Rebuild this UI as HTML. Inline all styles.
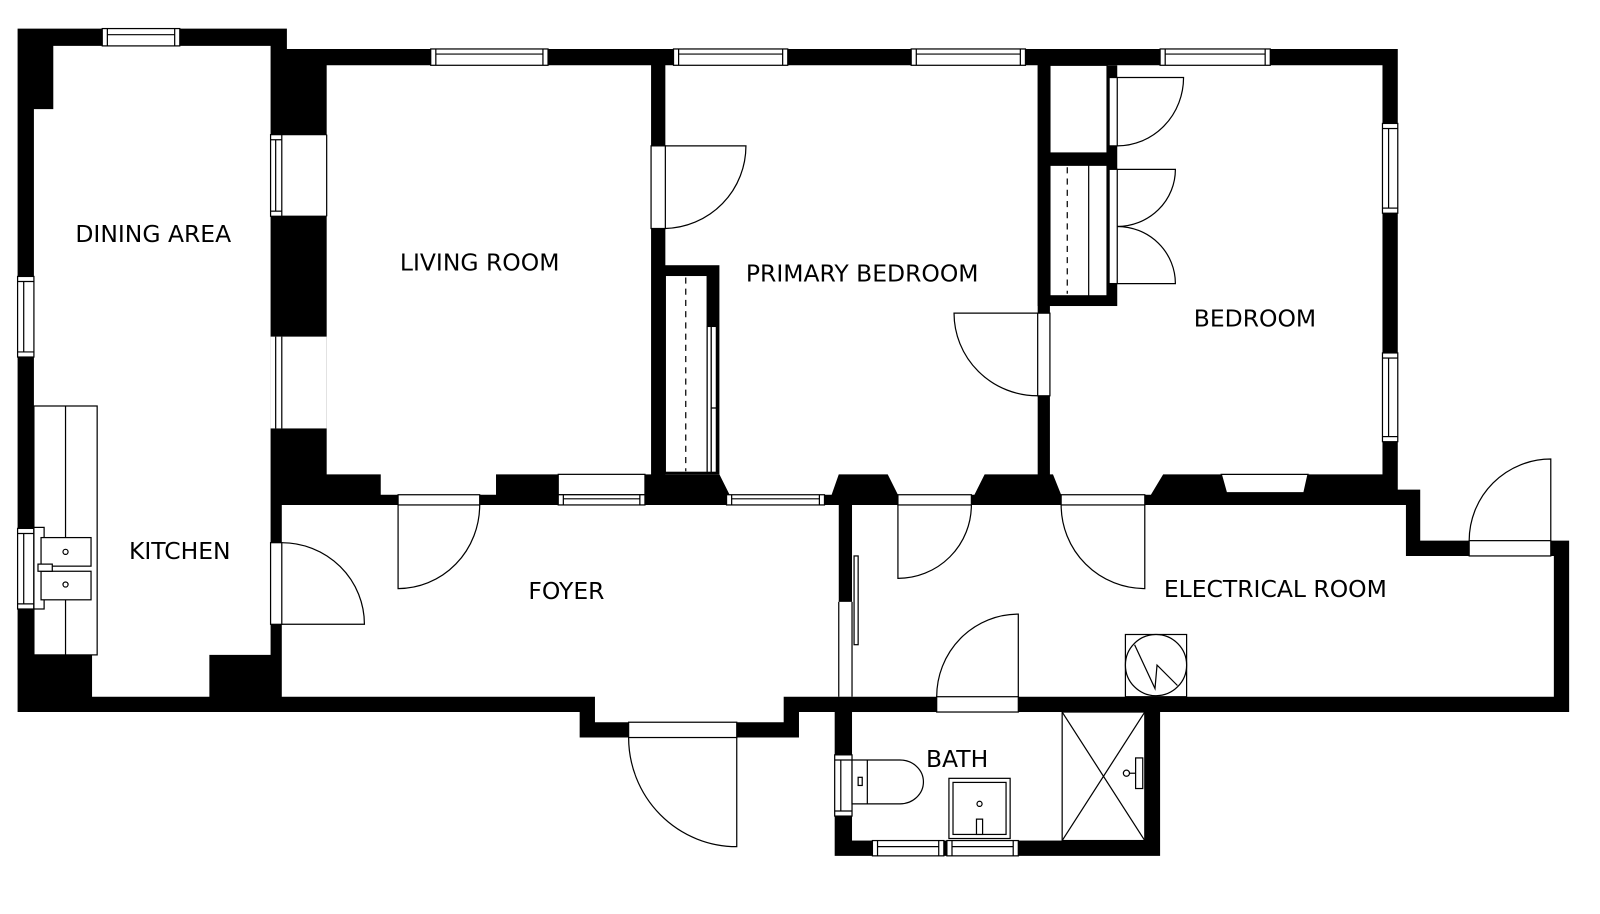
<!DOCTYPE html>
<html><head><meta charset="utf-8"><style>
html,body{margin:0;padding:0;background:#fff;}
svg{display:block;}
text{font-family:"DejaVu Sans","Liberation Sans",sans-serif;font-size:23px;fill:#000;text-anchor:middle;}
.w{fill:#fff;stroke:#000;stroke-width:1.2;}
.l{stroke:#000;stroke-width:1.2;fill:none;}
</style></head><body>
<svg width="1600" height="914" viewBox="0 0 1568 896" xmlns="http://www.w3.org/2000/svg">
<rect width="1568" height="896" fill="#fff"/>
<polygon fill="#000" points="17,28 281,28 281,48 1370,48 1370,480 1392,480 1392,530 1538,530 1538,698 1137,698 1137,839 818,839 818,698 783,698 783,723 568,723 568,698 17,698"/>
<polygon fill="#fff" points="52,45 265,45 265,642 205,642 205,683 90,683 90,642 33,642 33,107 52,107"/>
<polygon fill="#fff" points="320,64 638,64 638,465 486,465 486,485 373,485 373,465 320,465"/>
<rect x="276" y="132" width="44" height="80" fill="#fff"/>
<rect x="265" y="330" width="55" height="90" fill="#fff"/>
<line class="l" x1="270" y1="330" x2="270" y2="420"/><line class="l" x1="276" y1="330" x2="276" y2="420"/>
<line class="l" x1="276" y1="132" x2="320" y2="132"/><line class="l" x1="276" y1="212" x2="320" y2="212"/><line class="l" x1="320" y1="132" x2="320" y2="212"/>
<polygon fill="#fff" points="652,64 1017,64 1017,465 965,465 955,485 880,485 870,465 822,465 815,485 715,485 705,465 652,465"/>
<polygon fill="#fff" points="1029,64 1355,64 1355,465 1140,465 1128,485 1040,485 1032,465 1029,465"/>
<polygon class="w" points="1197,465 1282,465 1278,483 1202,483"/>
<polygon fill="#fff" points="276,495 822,495 822,683 768,683 768,708 583,708 583,683 276,683"/>
<polygon fill="#fff" points="835,495 1378,495 1378,545 1523,545 1523,683 835,683"/>
<rect x="822" y="590" width="13" height="93" fill="#fff"/>
<line class="l" x1="822" y1="590" x2="822" y2="683"/><line class="l" x1="835" y1="590" x2="835" y2="683"/>
<rect class="w" x="837" y="545" width="4" height="87"/>
<rect fill="#fff" x="835" y="698" width="287" height="126"/>
<rect class="w" x="547" y="465" width="85" height="20"/>
<rect fill="#000" x="650" y="260" width="55" height="205"/>
<rect class="w" x="652" y="270" width="41" height="193"/>
<line class="l" x1="672" y1="272" x2="672" y2="462" stroke-dasharray="6,5"/>
<rect class="w" x="693" y="320" width="4" height="143"/><rect class="w" x="697" y="320" width="5" height="80"/><rect class="w" x="697" y="400" width="5" height="63"/>
<rect fill="#000" x="1017" y="64" width="78" height="236"/>
<rect class="w" x="1029" y="64" width="56" height="86"/>
<rect class="w" x="1029" y="162" width="56" height="128"/>
<line class="l" x1="1067" y1="162" x2="1067" y2="290"/>
<line class="l" x1="1046" y1="164" x2="1046" y2="288" stroke-dasharray="6,5"/>
<rect class="w" x="1087" y="76" width="8" height="67"/>
<rect class="w" x="1087" y="166" width="8" height="112"/>
<g>
<rect class="w" x="100" y="28" width="76" height="17"/><line class="l" x1="105" y1="34" x2="171" y2="34"/><line class="l" x1="105" y1="28" x2="105" y2="45"/><line class="l" x1="171" y1="28" x2="171" y2="45"/>
<rect class="w" x="422" y="48" width="115" height="16"/><line class="l" x1="427" y1="53" x2="532" y2="53"/><line class="l" x1="427" y1="48" x2="427" y2="64"/><line class="l" x1="532" y1="48" x2="532" y2="64"/>
<rect class="w" x="660" y="48" width="112" height="16"/><line class="l" x1="665" y1="53" x2="767" y2="53"/><line class="l" x1="665" y1="48" x2="665" y2="64"/><line class="l" x1="767" y1="48" x2="767" y2="64"/>
<rect class="w" x="893" y="48" width="112" height="16"/><line class="l" x1="898" y1="53" x2="1000" y2="53"/><line class="l" x1="898" y1="48" x2="898" y2="64"/><line class="l" x1="1000" y1="48" x2="1000" y2="64"/>
<rect class="w" x="1137" y="48" width="108" height="16"/><line class="l" x1="1142" y1="53" x2="1240" y2="53"/><line class="l" x1="1142" y1="48" x2="1142" y2="64"/><line class="l" x1="1240" y1="48" x2="1240" y2="64"/>
<rect class="w" x="265" y="132" width="11" height="80"/><line class="l" x1="270" y1="137" x2="270" y2="207"/><line class="l" x1="265" y1="137" x2="276" y2="137"/><line class="l" x1="265" y1="207" x2="276" y2="207"/>
<rect class="w" x="17" y="271" width="16" height="79"/><line class="l" x1="23" y1="276" x2="23" y2="345"/><line class="l" x1="17" y1="276" x2="33" y2="276"/><line class="l" x1="17" y1="345" x2="33" y2="345"/>
<rect class="w" x="17" y="518" width="16" height="79"/><line class="l" x1="23" y1="523" x2="23" y2="592"/><line class="l" x1="17" y1="523" x2="33" y2="523"/><line class="l" x1="17" y1="592" x2="33" y2="592"/>
<rect class="w" x="1355" y="121" width="15" height="88"/><line class="l" x1="1361" y1="126" x2="1361" y2="204"/><line class="l" x1="1355" y1="126" x2="1370" y2="126"/><line class="l" x1="1355" y1="204" x2="1370" y2="204"/>
<rect class="w" x="1355" y="346" width="15" height="87"/><line class="l" x1="1361" y1="351" x2="1361" y2="428"/><line class="l" x1="1355" y1="351" x2="1370" y2="351"/><line class="l" x1="1355" y1="428" x2="1370" y2="428"/>
<rect class="w" x="547" y="485" width="85" height="10"/><line class="l" x1="552" y1="489" x2="627" y2="489"/><line class="l" x1="552" y1="485" x2="552" y2="495"/><line class="l" x1="627" y1="485" x2="627" y2="495"/>
<rect class="w" x="712" y="485" width="96" height="10"/><line class="l" x1="717" y1="489" x2="803" y2="489"/><line class="l" x1="717" y1="485" x2="717" y2="495"/><line class="l" x1="803" y1="485" x2="803" y2="495"/>
<rect class="w" x="818" y="740" width="17" height="60"/><line class="l" x1="824" y1="745" x2="824" y2="795"/><line class="l" x1="818" y1="745" x2="835" y2="745"/><line class="l" x1="818" y1="795" x2="835" y2="795"/>
<rect class="w" x="855" y="824" width="70" height="15"/><line class="l" x1="860" y1="830" x2="920" y2="830"/><line class="l" x1="860" y1="824" x2="860" y2="839"/><line class="l" x1="920" y1="824" x2="920" y2="839"/>
<rect class="w" x="928" y="824" width="70" height="15"/><line class="l" x1="933" y1="830" x2="993" y2="830"/><line class="l" x1="933" y1="824" x2="933" y2="839"/><line class="l" x1="993" y1="824" x2="993" y2="839"/>
</g>
<rect class="w" x="638" y="143" width="14" height="81"/>
<rect class="w" x="1017" y="307" width="12" height="81"/>
<rect class="w" x="390" y="485" width="80" height="10"/>
<rect class="w" x="265" y="532" width="11" height="80"/>
<rect class="w" x="880" y="485" width="72" height="10"/>
<rect class="w" x="1040" y="485" width="82" height="10"/>
<rect class="w" x="918" y="683" width="80" height="15"/>
<rect class="w" x="1440" y="530" width="80" height="15"/>
<rect class="w" x="616" y="708" width="106" height="15"/>
<path class="l" d="M652 143 H731 A81 81 0 0 1 652 224"/>
<path class="l" d="M1017 307 H935 A82 81 0 0 0 1017 388"/>
<path class="l" d="M1095 76 H1160 A65 67 0 0 1 1095 143"/>
<path class="l" d="M1095 166 H1152 A57 56 0 0 1 1095 222"/>
<path class="l" d="M1095 278 H1152 A57 56 0 0 0 1095 222"/>
<path class="l" d="M390 495 V577 A80 82 0 0 0 470 495"/>
<path class="l" d="M276 612 H357 A81 80 0 0 0 276 532"/>
<path class="l" d="M880 495 V567 A72 72 0 0 0 952 495"/>
<path class="l" d="M1122 495 V577 A82 82 0 0 1 1040 495"/>
<path class="l" d="M998 683 V602 A80 81 0 0 0 918 683"/>
<path class="l" d="M1520 530 V450 A80 80 0 0 0 1440 530"/>
<path class="l" d="M722 723 V830 A106 107 0 0 1 616 723"/>
<rect class="w" x="33" y="398" width="62" height="244"/>
<line class="l" x1="64" y1="398" x2="64" y2="527"/><line class="l" x1="64" y1="588" x2="64" y2="642"/>
<rect class="w" x="33" y="517" width="10" height="80"/>
<rect class="w" x="40" y="527" width="49" height="28"/><rect class="w" x="40" y="560" width="49" height="28"/>
<circle class="w" cx="64" cy="541" r="2.5"/><circle class="w" cx="64" cy="573" r="2.5"/>
<rect class="w" x="37" y="553" width="14" height="7"/>
<rect class="w" x="1103" y="622" width="60" height="61"/>
<circle class="w" cx="1133" cy="652" r="30"/>
<path class="l" d="M1112 632 L1132 675 L1134 652 L1154 672"/>
<rect class="w" x="1041" y="698" width="81" height="126"/>
<line class="l" x1="1041" y1="698" x2="1122" y2="824"/><line class="l" x1="1122" y1="698" x2="1041" y2="824"/>
<rect class="w" x="1113" y="743" width="7" height="30"/><path class="l" d="M1103 758 H1113"/><circle class="w" cx="1104" cy="758" r="3"/>
<path class="w" d="M835 745 H882 A23 21.5 0 0 1 882 788 H835 Z"/>
<line class="l" x1="850" y1="745" x2="850" y2="788"/>
<rect class="w" x="841" y="762" width="4" height="8"/>
<rect class="w" x="930" y="763" width="60" height="59"/>
<rect class="w" x="934" y="767" width="52" height="51"/>
<circle class="w" cx="960" cy="788" r="2.5"/>
<rect class="w" x="957" y="803" width="6" height="15"/>
<text x="150" y="237">DINING AREA</text>
<text x="470" y="265">LIVING ROOM</text>
<text x="845" y="276">PRIMARY BEDROOM</text>
<text x="1230" y="320">BEDROOM</text>
<text x="176" y="548">KITCHEN</text>
<text x="555" y="587">FOYER</text>
<text x="1250" y="585">ELECTRICAL ROOM</text>
<text x="938" y="752">BATH</text>
</svg>
</body></html>
